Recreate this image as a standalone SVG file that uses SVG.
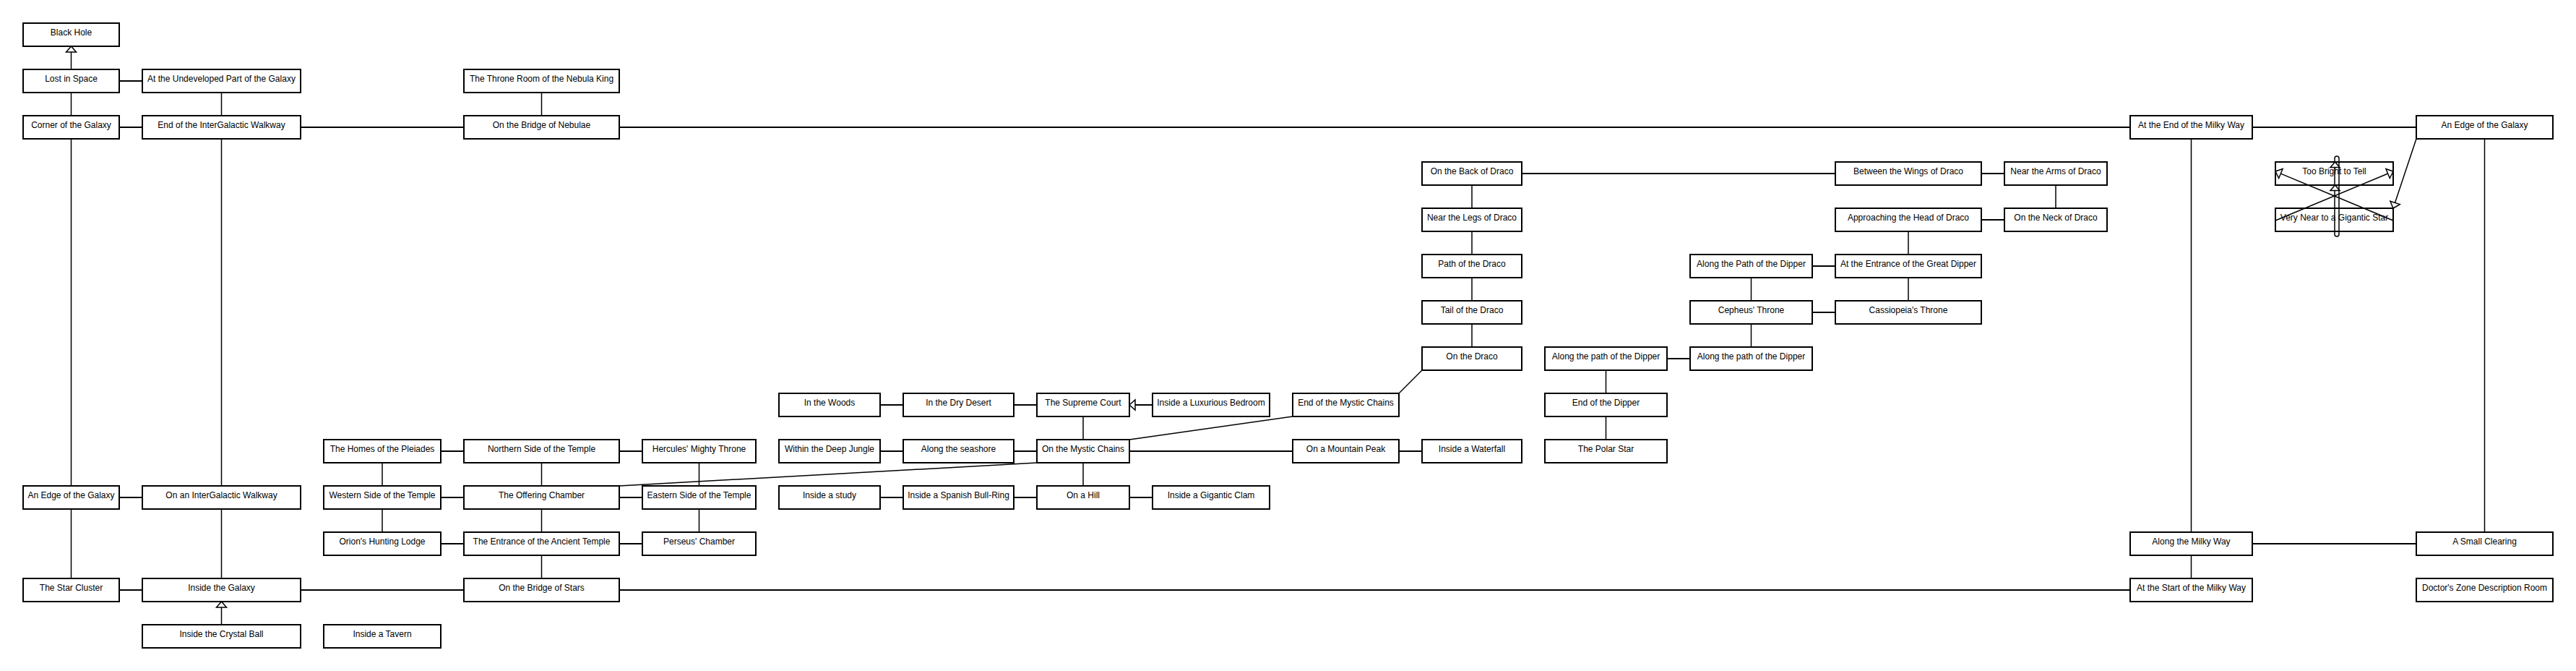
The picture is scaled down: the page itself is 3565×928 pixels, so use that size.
<svg xmlns="http://www.w3.org/2000/svg" width="3565" height="928" viewBox="0 0 3565 928">
<style>
  .n rect { fill: #fff; stroke: #000; stroke-width: 2; }
  .n text { font-family: "Liberation Sans", Arial, sans-serif; font-size: 12px; text-anchor: middle; fill: #000; }
  #connectors line, #connectors path, #connectors rect { stroke: #000; fill: none; stroke-width: 2; }
  #connectors .v { stroke-width: 1.5; }
  #connectors .d { stroke-width: 1.5; }
  #connectors polygon { fill: #fff; stroke: #000; stroke-width: 1.5; }
</style>
<rect x="0" y="0" width="3565" height="928" fill="#fff"/>
<g id="nodes">
  <g id="black-hole" class="n"><rect x="32" y="32" width="133" height="32"/><text x="98.5" y="49">Black Hole</text></g>
  <g id="lost-in-space" class="n"><rect x="32" y="96" width="133" height="32"/><text x="98.5" y="113">Lost in Space</text></g>
  <g id="undeveloped-part" class="n"><rect x="197" y="96" width="219" height="32"/><text x="306.5" y="113">At the Undeveloped Part of the Galaxy</text></g>
  <g id="throne-room-nebula-king" class="n"><rect x="642" y="96" width="215" height="32"/><text x="749.5" y="113">The Throne Room of the Nebula King</text></g>
  <g id="corner-of-galaxy" class="n"><rect x="32" y="160" width="133" height="32"/><text x="98.5" y="177">Corner of the Galaxy</text></g>
  <g id="end-intergalactic-walkway" class="n"><rect x="197" y="160" width="219" height="32"/><text x="306.5" y="177">End of the InterGalactic Walkway</text></g>
  <g id="bridge-of-nebulae" class="n"><rect x="642" y="160" width="215" height="32"/><text x="749.5" y="177">On the Bridge of Nebulae</text></g>
  <g id="end-milky-way" class="n"><rect x="2948" y="160" width="169" height="32"/><text x="3032.5" y="177">At the End of the Milky Way</text></g>
  <g id="edge-of-galaxy-right" class="n"><rect x="3344" y="160" width="189" height="32"/><text x="3438.5" y="177">An Edge of the Galaxy</text></g>

  <g id="back-of-draco" class="n"><rect x="1968" y="224" width="138" height="32"/><text x="2037" y="241">On the Back of Draco</text></g>
  <g id="wings-of-draco" class="n"><rect x="2540" y="224" width="202" height="32"/><text x="2641" y="241">Between the Wings of Draco</text></g>
  <g id="arms-of-draco" class="n"><rect x="2774" y="224" width="142" height="32"/><text x="2845" y="241">Near the Arms of Draco</text></g>
  <g id="too-bright" class="n"><rect x="3149" y="224" width="163" height="32"/><text x="3230.5" y="241">Too Bright to Tell</text></g>

  <g id="legs-of-draco" class="n"><rect x="1968" y="288" width="138" height="32"/><text x="2037" y="305">Near the Legs of Draco</text></g>
  <g id="head-of-draco" class="n"><rect x="2540" y="288" width="202" height="32"/><text x="2641" y="305">Approaching the Head of Draco</text></g>
  <g id="neck-of-draco" class="n"><rect x="2774" y="288" width="142" height="32"/><text x="2845" y="305">On the Neck of Draco</text></g>
  <g id="gigantic-star" class="n"><rect x="3149" y="288" width="163" height="32"/><text x="3230.5" y="305">Very Near to a Gigantic Star</text></g>

  <g id="path-of-draco" class="n"><rect x="1968" y="352" width="138" height="32"/><text x="2037" y="369">Path of the Draco</text></g>
  <g id="path-of-dipper-upper" class="n"><rect x="2339" y="352" width="169" height="32"/><text x="2423.5" y="369">Along the Path of the Dipper</text></g>
  <g id="entrance-great-dipper" class="n"><rect x="2540" y="352" width="202" height="32"/><text x="2641" y="369">At the Entrance of the Great Dipper</text></g>

  <g id="tail-of-draco" class="n"><rect x="1968" y="416" width="138" height="32"/><text x="2037" y="433">Tail of the Draco</text></g>
  <g id="cepheus-throne" class="n"><rect x="2339" y="416" width="169" height="32"/><text x="2423.5" y="433">Cepheus' Throne</text></g>
  <g id="cassiopeia-throne" class="n"><rect x="2540" y="416" width="202" height="32"/><text x="2641" y="433">Cassiopeia's Throne</text></g>

  <g id="on-the-draco" class="n"><rect x="1968" y="480" width="138" height="32"/><text x="2037" y="497">On the Draco</text></g>
  <g id="path-of-dipper-1" class="n"><rect x="2138" y="480" width="169" height="32"/><text x="2222.5" y="497">Along the path of the Dipper</text></g>
  <g id="path-of-dipper-2" class="n"><rect x="2339" y="480" width="169" height="32"/><text x="2423.5" y="497">Along the path of the Dipper</text></g>

  <g id="in-the-woods" class="n"><rect x="1078" y="544" width="140" height="32"/><text x="1148" y="561">In the Woods</text></g>
  <g id="dry-desert" class="n"><rect x="1250" y="544" width="153" height="32"/><text x="1326.5" y="561">In the Dry Desert</text></g>
  <g id="supreme-court" class="n"><rect x="1435" y="544" width="128" height="32"/><text x="1499" y="561">The Supreme Court</text></g>
  <g id="luxurious-bedroom" class="n"><rect x="1595" y="544" width="162" height="32"/><text x="1676" y="561">Inside a Luxurious Bedroom</text></g>
  <g id="end-mystic-chains" class="n"><rect x="1789" y="544" width="147" height="32"/><text x="1862.5" y="561">End of the Mystic Chains</text></g>
  <g id="end-of-dipper" class="n"><rect x="2138" y="544" width="169" height="32"/><text x="2222.5" y="561">End of the Dipper</text></g>

  <g id="homes-pleiades" class="n"><rect x="448" y="608" width="162" height="32"/><text x="529" y="625">The Homes of the Pleiades</text></g>
  <g id="northern-side" class="n"><rect x="642" y="608" width="215" height="32"/><text x="749.5" y="625">Northern Side of the Temple</text></g>
  <g id="hercules-throne" class="n"><rect x="889" y="608" width="157" height="32"/><text x="967.5" y="625">Hercules' Mighty Throne</text></g>
  <g id="deep-jungle" class="n"><rect x="1078" y="608" width="140" height="32"/><text x="1148" y="625">Within the Deep Jungle</text></g>
  <g id="seashore" class="n"><rect x="1250" y="608" width="153" height="32"/><text x="1326.5" y="625">Along the seashore</text></g>
  <g id="mystic-chains" class="n"><rect x="1435" y="608" width="128" height="32"/><text x="1499" y="625">On the Mystic Chains</text></g>
  <g id="mountain-peak" class="n"><rect x="1789" y="608" width="147" height="32"/><text x="1862.5" y="625">On a Mountain Peak</text></g>
  <g id="waterfall" class="n"><rect x="1968" y="608" width="138" height="32"/><text x="2037" y="625">Inside a Waterfall</text></g>
  <g id="polar-star" class="n"><rect x="2138" y="608" width="169" height="32"/><text x="2222.5" y="625">The Polar Star</text></g>

  <g id="edge-of-galaxy-left" class="n"><rect x="32" y="672" width="133" height="32"/><text x="98.5" y="689">An Edge of the Galaxy</text></g>
  <g id="intergalactic-walkway" class="n"><rect x="197" y="672" width="219" height="32"/><text x="306.5" y="689">On an InterGalactic Walkway</text></g>
  <g id="western-side" class="n"><rect x="448" y="672" width="162" height="32"/><text x="529" y="689">Western Side of the Temple</text></g>
  <g id="offering-chamber" class="n"><rect x="642" y="672" width="215" height="32"/><text x="749.5" y="689">The Offering Chamber</text></g>
  <g id="eastern-side" class="n"><rect x="889" y="672" width="157" height="32"/><text x="967.5" y="689">Eastern Side of the Temple</text></g>
  <g id="study" class="n"><rect x="1078" y="672" width="140" height="32"/><text x="1148" y="689">Inside a study</text></g>
  <g id="bull-ring" class="n"><rect x="1250" y="672" width="153" height="32"/><text x="1326.5" y="689">Inside a Spanish Bull-Ring</text></g>
  <g id="on-a-hill" class="n"><rect x="1435" y="672" width="128" height="32"/><text x="1499" y="689">On a Hill</text></g>
  <g id="gigantic-clam" class="n"><rect x="1595" y="672" width="162" height="32"/><text x="1676" y="689">Inside a Gigantic Clam</text></g>

  <g id="orion-lodge" class="n"><rect x="448" y="736" width="162" height="32"/><text x="529" y="753">Orion's Hunting Lodge</text></g>
  <g id="ancient-temple-entrance" class="n"><rect x="642" y="736" width="215" height="32"/><text x="749.5" y="753">The Entrance of the Ancient Temple</text></g>
  <g id="perseus-chamber" class="n"><rect x="889" y="736" width="157" height="32"/><text x="967.5" y="753">Perseus' Chamber</text></g>
  <g id="along-milky-way" class="n"><rect x="2948" y="736" width="169" height="32"/><text x="3032.5" y="753">Along the Milky Way</text></g>
  <g id="small-clearing" class="n"><rect x="3344" y="736" width="189" height="32"/><text x="3438.5" y="753">A Small Clearing</text></g>

  <g id="star-cluster" class="n"><rect x="32" y="800" width="133" height="32"/><text x="98.5" y="817">The Star Cluster</text></g>
  <g id="inside-galaxy" class="n"><rect x="197" y="800" width="219" height="32"/><text x="306.5" y="817">Inside the Galaxy</text></g>
  <g id="bridge-of-stars" class="n"><rect x="642" y="800" width="215" height="32"/><text x="749.5" y="817">On the Bridge of Stars</text></g>
  <g id="start-milky-way" class="n"><rect x="2948" y="800" width="169" height="32"/><text x="3032.5" y="817">At the Start of the Milky Way</text></g>
  <g id="doctors-zone" class="n"><rect x="3344" y="800" width="189" height="32"/><text x="3438.5" y="817">Doctor's Zone Description Room</text></g>

  <g id="crystal-ball" class="n"><rect x="197" y="864" width="219" height="32"/><text x="306.5" y="881">Inside the Crystal Ball</text></g>
  <g id="tavern" class="n"><rect x="448" y="864" width="162" height="32"/><text x="529" y="881">Inside a Tavern</text></g>
</g>
<g id="connectors">
  <!-- horizontal -->
  <line x1="165" y1="112" x2="197" y2="112"/>
  <line x1="165" y1="176" x2="197" y2="176"/>
  <line x1="416" y1="176" x2="642" y2="176"/>
  <line x1="857" y1="176" x2="2948" y2="176"/>
  <line x1="3117" y1="176" x2="3344" y2="176"/>
  <line x1="2106" y1="240" x2="2540" y2="240"/>
  <line x1="2742" y1="240" x2="2774" y2="240"/>
  <line x1="2742" y1="304" x2="2774" y2="304"/>
  <line x1="2508" y1="368" x2="2540" y2="368"/>
  <line x1="2508" y1="432" x2="2540" y2="432"/>
  <line x1="2307" y1="496" x2="2339" y2="496"/>
  <line x1="1218" y1="560" x2="1250" y2="560"/>
  <line x1="1403" y1="560" x2="1435" y2="560"/>
  <line x1="1571" y1="560" x2="1595" y2="560"/>
  <line x1="610" y1="624" x2="642" y2="624"/>
  <line x1="857" y1="624" x2="889" y2="624"/>
  <line x1="1218" y1="624" x2="1250" y2="624"/>
  <line x1="1403" y1="624" x2="1435" y2="624"/>
  <line x1="1563" y1="624" x2="1789" y2="624"/>
  <line x1="1936" y1="624" x2="1968" y2="624"/>
  <line x1="165" y1="688" x2="197" y2="688"/>
  <line x1="610" y1="688" x2="642" y2="688"/>
  <line x1="857" y1="688" x2="889" y2="688"/>
  <line x1="1218" y1="688" x2="1250" y2="688"/>
  <line x1="1403" y1="688" x2="1435" y2="688"/>
  <line x1="1563" y1="688" x2="1595" y2="688"/>
  <line x1="610" y1="752" x2="642" y2="752"/>
  <line x1="857" y1="752" x2="889" y2="752"/>
  <line x1="3117" y1="752" x2="3344" y2="752"/>
  <line x1="165" y1="816" x2="197" y2="816"/>
  <line x1="416" y1="816" x2="642" y2="816"/>
  <line x1="857" y1="816" x2="2948" y2="816"/>
  <!-- vertical -->
  <line class="v" x1="98.5" y1="72" x2="98.5" y2="96"/>
  <line class="v" x1="98.5" y1="128" x2="98.5" y2="160"/>
  <line class="v" x1="98.5" y1="192" x2="98.5" y2="672"/>
  <line class="v" x1="98.5" y1="704" x2="98.5" y2="800"/>
  <line class="v" x1="306.5" y1="128" x2="306.5" y2="160"/>
  <line class="v" x1="306.5" y1="192" x2="306.5" y2="672"/>
  <line class="v" x1="306.5" y1="704" x2="306.5" y2="800"/>
  <line class="v" x1="306.5" y1="840" x2="306.5" y2="864"/>
  <line class="v" x1="749.5" y1="128" x2="749.5" y2="160"/>
  <line class="v" x1="749.5" y1="640" x2="749.5" y2="672"/>
  <line class="v" x1="749.5" y1="704" x2="749.5" y2="736"/>
  <line class="v" x1="749.5" y1="768" x2="749.5" y2="800"/>
  <line class="v" x1="529" y1="640" x2="529" y2="672"/>
  <line class="v" x1="529" y1="704" x2="529" y2="736"/>
  <line class="v" x1="967.5" y1="640" x2="967.5" y2="672"/>
  <line class="v" x1="967.5" y1="704" x2="967.5" y2="736"/>
  <line class="v" x1="1499" y1="576" x2="1499" y2="608"/>
  <line class="v" x1="1499" y1="640" x2="1499" y2="672"/>
  <line class="v" x1="2037" y1="256" x2="2037" y2="288"/>
  <line class="v" x1="2037" y1="320" x2="2037" y2="352"/>
  <line class="v" x1="2037" y1="384" x2="2037" y2="416"/>
  <line class="v" x1="2037" y1="448" x2="2037" y2="480"/>
  <line class="v" x1="2845" y1="256" x2="2845" y2="288"/>
  <line class="v" x1="2641" y1="320" x2="2641" y2="352"/>
  <line class="v" x1="2641" y1="384" x2="2641" y2="416"/>
  <line class="v" x1="2423.5" y1="384" x2="2423.5" y2="416"/>
  <line class="v" x1="2423.5" y1="448" x2="2423.5" y2="480"/>
  <line class="v" x1="2222.5" y1="512" x2="2222.5" y2="544"/>
  <line class="v" x1="2222.5" y1="576" x2="2222.5" y2="608"/>
  <line class="v" x1="3032.5" y1="192" x2="3032.5" y2="736"/>
  <line class="v" x1="3032.5" y1="768" x2="3032.5" y2="800"/>
  <line class="v" x1="3438.5" y1="192" x2="3438.5" y2="736"/>
  <!-- diagonal -->
  <line class="d" x1="857" y1="672" x2="1435" y2="640"/>
  <line class="d" x1="1789" y1="576" x2="1563" y2="608"/>
  <line class="d" x1="1936" y1="544" x2="1968" y2="512"/>
  <line class="d" x1="3344" y1="192" x2="3314.5" y2="280.4"/>
  <line class="d" x1="3149" y1="305" x2="3304.6" y2="240.1"/>
  <line class="d" x1="3312" y1="305" x2="3156.4" y2="240.1"/>
  <rect class="d" x="3231" y="216" width="6" height="111" rx="3"/>
  <!-- arrowheads -->
  <polygon points="98.5,64 91.5,72 105.5,72"/>
  <polygon points="306.5,832 299.5,840 313.5,840"/>
  <polygon points="1563,560 1571,553 1571,567"/>
  <polygon points="3312,288 3321.2,282.6 3307.9,278.2"/>
  <polygon points="3312,237 3307.3,246.5 3301.9,233.6"/>
  <polygon points="3149,237 3153.7,246.5 3159.1,233.6"/>
  <polygon points="3231.5,224 3225,231.5 3238,231.5"/>
  <polygon points="3231.5,256 3225,263.5 3238,263.5"/>
</g>
</svg>
